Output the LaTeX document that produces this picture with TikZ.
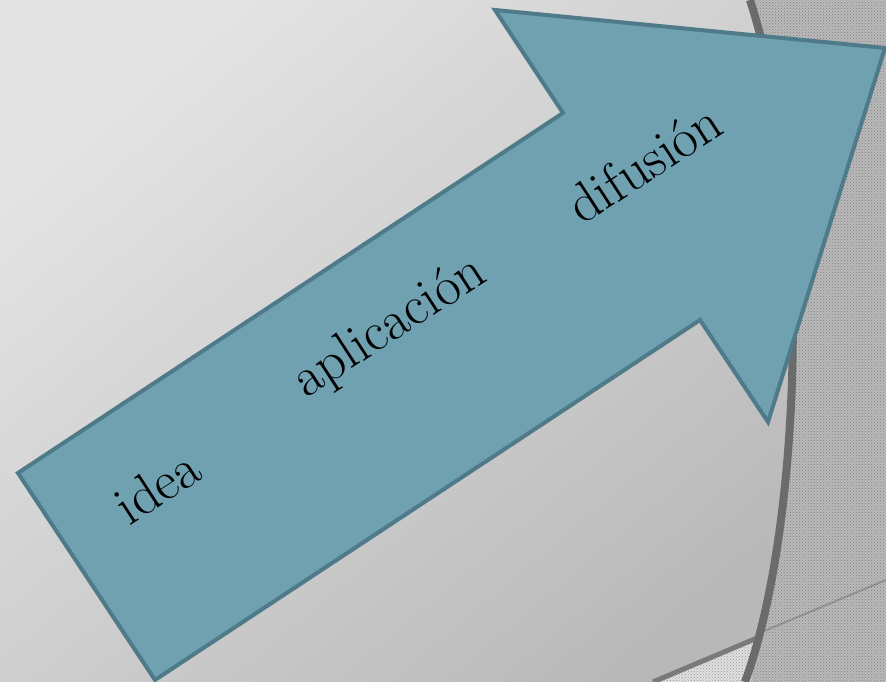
\documentclass[tikz,border=0pt]{standalone}
\usepackage{fontspec}
\usepackage{xcolor}
\usepackage{tikz}
\usetikzlibrary{positioning, patterns, calc}

\definecolor{arrowfill}{HTML}{6FA1B1}
\definecolor{arrowline}{HTML}{4F7A89}

\begin{document}
\begin{tikzpicture}[
  x=1pt, y=1pt,
  word/.style={font=\fontsize{55}{62}\selectfont, rotate=33, inner sep=0pt},
  bigarrow/.style={fill=arrowfill, draw=arrowline, line width=4pt, line join=miter},
  band/.style={draw=black!58, line width=8pt},
]
  % background
  \shade[top color=black!11, bottom color=black!28, shading angle=40]
    (0,0) rectangle (886,682);
  \useasboundingbox (0,0) rectangle (886,682);

  % hatched side panel
  \fill[black!27] (750,682) .. controls (815,480) and (800,150) .. (745,0)
    -- (886,0) -- (886,682) -- cycle;
  \fill[pattern=crosshatch dots, pattern color=black!50] (750,682) .. controls (815,480) and (800,150) .. (745,0)
    -- (886,0) -- (886,682) -- cycle;
  \fill[black!12] (653,0) -- (757,44) -- (751,0) -- cycle;
  \fill[pattern=crosshatch dots, pattern color=black!40] (653,0) -- (757,44) -- (751,0) -- cycle;
  \draw[black!52, line width=5pt] (653,0) -- (757,44);
  \draw[black!55, line width=2pt, opacity=.5] (757,48) -- (886,102);
  \draw[band] (750,682) .. controls (815,480) and (800,150) .. (745,0);

  % arrow outline
  \coordinate (tl) at (18,209);
  \coordinate (tb) at (155,2);
  \coordinate (nl) at (700,362);
  \coordinate (bl) at (768,260);
  \coordinate (tip) at (885,634);
  \coordinate (bu) at (495,672);
  \coordinate (nu) at (563,569);
  \draw[bigarrow] (tl) -- (tb) -- (nl) -- (bl) -- (tip) -- (bu) -- (nu) -- cycle;

  \node[word] (idea) at (157,196) {idea};
  \node[word] (apl)  at (390,354) {aplicación};
  \node[word] (dif)  at (644,519) {difusión};
\end{tikzpicture}
\end{document}
